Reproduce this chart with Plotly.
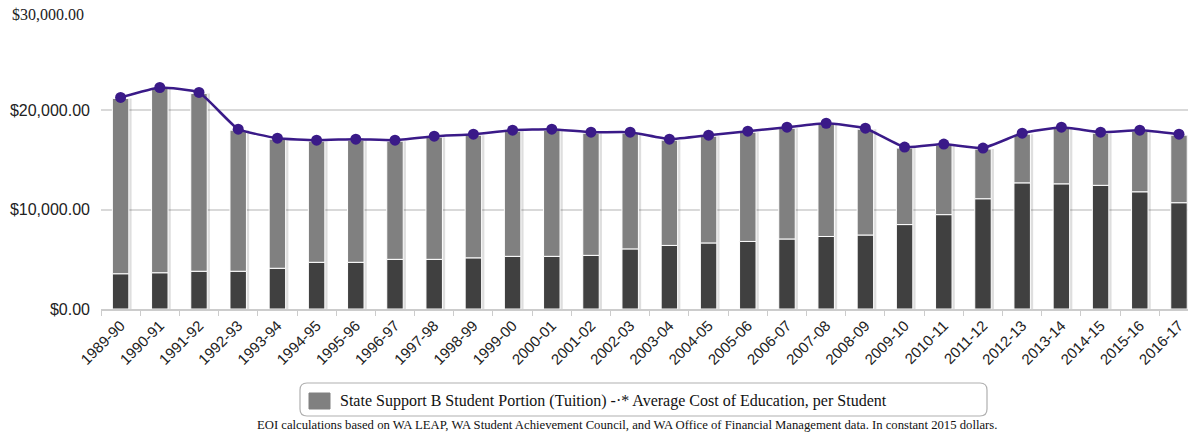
import plotly.graph_objects as go

years = ["1989-90", "1990-91", "1991-92", "1992-93", "1993-94", "1994-95", "1995-96",
         "1996-97", "1997-98", "1998-99", "1999-00", "2000-01", "2001-02", "2002-03",
         "2003-04", "2004-05", "2005-06", "2006-07", "2007-08", "2008-09", "2009-10",
         "2010-11", "2011-12", "2012-13", "2013-14", "2014-15", "2015-16", "2016-17"]

tuition = [3550, 3650, 3800, 3800, 4100, 4700, 4700, 5000, 5000, 5150, 5300, 5300, 5400, 6050,
           6400, 6650, 6800, 7050, 7300, 7450, 8500, 9500, 11100, 12700, 12600, 12450, 11800, 10700]

state_support = [17650, 18550, 17900, 14200, 13000, 12200, 12300, 11900, 12300, 12350, 12600, 12700,
                 12300, 11650, 10600, 10750, 11000, 11150, 11300, 10650, 7700, 7000, 5000, 4900,
                 5600, 5250, 6100, 6800]

avg_cost = [21300, 22300, 21800, 18100, 17200, 17000, 17100, 17000, 17400, 17600, 18000, 18100,
            17800, 17800, 17100, 17500, 17900, 18300, 18700, 18200, 16300, 16600, 16200, 17700,
            18300, 17800, 18000, 17600]

y_ticks = [0, 10000, 20000, 30000]
y_tick_text = ["$0.00", "$10,000.00", "$20,000.00", ""]
top_tick_label = "$30,000.00"

legend_text = "State Support B Student Portion (Tuition) -·* Average Cost of Education, per Student"
footer_text = ("EOI calculations based on WA LEAP, WA Student Achievement Council, and WA Office of "
               "Financial Management data. In constant 2015 dollars.")

totals = [a + b for a, b in zip(tuition, state_support)]

# figure geometry (pixels)
FW, FH = 1188, 434
ML, MR, MT, MB = 101, 0, 11, 125
PW, PH = FW - ML - MR, FH - MT - MB


def px(x):
    return (x - ML) / PW


def py(y):
    return (FH - MB - y) / PH


def rounded_rect(x0, y0, x1, y1, r):
    rx, ry = r / PW, r / PH
    a, b, c, d = px(x0), py(y1), px(x1), py(y0)  # left, bottom, right, top (paper)
    return (f"M {a + rx},{d} L {c - rx},{d} Q {c},{d} {c},{d - ry} "
            f"L {c},{b + ry} Q {c},{b} {c - rx},{b} L {a + rx},{b} "
            f"Q {a},{b} {a},{b + ry} L {a},{d - ry} Q {a},{d} {a + rx},{d} Z")


W = 0.42
fig = go.Figure()

# soft drop shadow behind the bars
fig.add_trace(go.Bar(x=years, y=totals, base=0, width=W, offset=-W / 2 + 0.07,
                     marker=dict(color="rgba(0,0,0,0.13)", line=dict(width=0)),
                     showlegend=False, hoverinfo="skip"))

fig.add_trace(go.Bar(x=years, y=tuition, base=0, width=W, offset=-W / 2,
                     marker=dict(color="#404040", line=dict(color="white", width=1)),
                     name="Student Portion (Tuition)", showlegend=False))

fig.add_trace(go.Bar(x=years, y=state_support, base=tuition, width=W, offset=-W / 2,
                     marker=dict(color="#808080", line=dict(color="white", width=1)),
                     name="State Support", showlegend=False))

fig.add_trace(go.Scatter(x=years, y=avg_cost, mode="lines+markers",
                         line=dict(color="#3a1a88", width=2.5, shape="spline", smoothing=0.4),
                         marker=dict(color="#3a1a88", size=11),
                         name="Average Cost of Education, per Student", showlegend=False))

fig.update_layout(
    width=FW, height=FH,
    margin=dict(l=ML, r=MR, t=MT, b=MB, autoexpand=False),
    paper_bgcolor="white", plot_bgcolor="white",
    barmode="overlay",
    showlegend=False,
    shapes=[
        dict(type="path", xref="paper", yref="paper", layer="above",
             path=rounded_rect(300, 383, 987, 416, 7),
             line=dict(color="#b0b0b0", width=1.2), fillcolor="rgba(255,255,255,0)"),
        dict(type="rect", xref="paper", yref="paper", layer="above",
             x0=px(309), x1=px(330), y0=py(409), y1=py(393),
             line=dict(color="#808080", width=1), fillcolor="#808080"),
    ],
    annotations=[
        dict(text=top_tick_label, xref="paper", yref="y", x=px(10), y=30000, yshift=-3,
             xanchor="left", yanchor="middle", showarrow=False,
             font=dict(family="Liberation Serif", size=16, color="#222")),
        dict(text=legend_text, xref="paper", yref="paper", x=px(338), y=py(400.5),
             xanchor="left", yanchor="middle", showarrow=False,
             font=dict(family="Liberation Serif", size=16, color="#111")),
        dict(text=footer_text, xref="paper", yref="paper", x=px(627), y=py(425),
             xanchor="center", yanchor="middle", showarrow=False,
             font=dict(family="Liberation Serif", size=12.7, color="#111")),
    ],
)

fig.update_xaxes(type="category", range=[-0.5, 27.23], tickangle=-45, automargin=False,
                 tickson="boundaries", ticks="outside", ticklen=5, tickcolor="#cccccc",
                 tickfont=dict(family="Liberation Sans", size=15, color="#222"),
                 showgrid=False, showline=True, linecolor="#cccccc", linewidth=2)

fig.update_yaxes(range=[0, 30000], tickvals=y_ticks, ticktext=y_tick_text, automargin=False,
                 tickfont=dict(family="Liberation Sans", size=16, color="#222"),
                 showgrid=True, gridcolor="#d9d9d9", gridwidth=1.5, zeroline=False,
                 ticks="", ticklabelstandoff=10, showline=False)

fig.write_html("out.html", config={"displayModeBar": False},
               post_script="document.body.style.margin='0';document.body.style.overflow='hidden';")
